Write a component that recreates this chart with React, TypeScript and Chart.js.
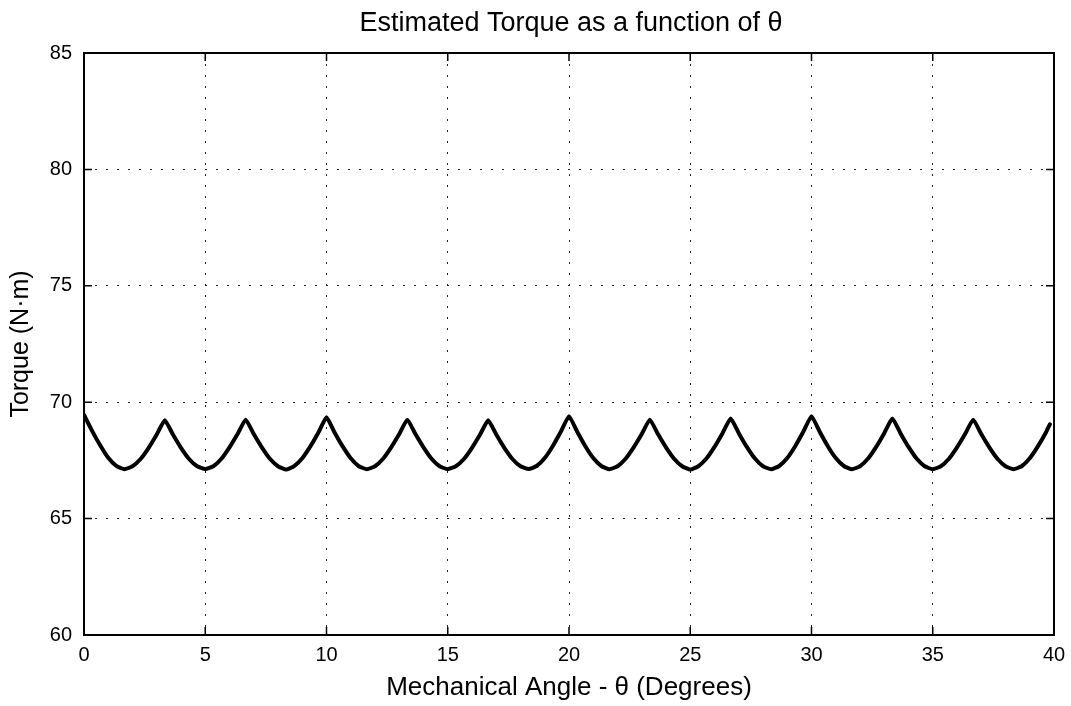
import React, { useEffect, useRef } from "react";
import { Chart, registerables } from "chart.js";

Chart.register(...registerables);

const titleText = "Estimated Torque as a function of \u03b8";
const xAxisTitle = "Mechanical Angle - \u03b8 (Degrees)";
const yAxisTitle = "Torque (N\u00b7m)";

const angles: number[] = [
  0, 0.333, 0.667, 1.0, 1.333, 1.667, 2.0, 2.333, 2.667, 3.0,
  3.333, 3.667, 4.0, 4.333, 4.667, 5.0, 5.333, 5.667, 6.0, 6.333,
  6.667, 7.0, 7.333, 7.667, 8.0, 8.333, 8.667, 9.0, 9.333, 9.667,
  10.0, 10.333, 10.667, 11.0, 11.333, 11.667, 12.0, 12.333, 12.667, 13.0,
  13.333, 13.667, 14.0, 14.333, 14.667, 15.0, 15.333, 15.667, 16.0, 16.333,
  16.667, 17.0, 17.333, 17.667, 18.0, 18.333, 18.667, 19.0, 19.333, 19.667,
  20.0, 20.333, 20.667, 21.0, 21.333, 21.667, 22.0, 22.333, 22.667, 23.0,
  23.333, 23.667, 24.0, 24.333, 24.667, 25.0, 25.333, 25.667, 26.0, 26.333,
  26.667, 27.0, 27.333, 27.667, 28.0, 28.333, 28.667, 29.0, 29.333, 29.667,
  30.0, 30.333, 30.667, 31.0, 31.333, 31.667, 32.0, 32.333, 32.667, 33.0,
  33.333, 33.667, 34.0, 34.333, 34.667, 35.0, 35.333, 35.667, 36.0, 36.333,
  36.667, 37.0, 37.333, 37.667, 38.0, 38.333, 38.667, 39.0, 39.333, 39.667,
  39.83,
];

const torque: number[] = [
  69.45, 68.77, 68.15, 67.61, 67.26, 67.12, 67.25, 67.56, 68.04, 68.61,
  69.22, 68.61, 68.04, 67.56, 67.25, 67.13, 67.25, 67.57, 68.06, 68.63,
  69.25, 68.63, 68.06, 67.57, 67.25, 67.11, 67.25, 67.59, 68.10, 68.70,
  69.35, 68.70, 68.10, 67.59, 67.25, 67.12, 67.25, 67.57, 68.06, 68.63,
  69.25, 68.63, 68.06, 67.57, 67.25, 67.12, 67.25, 67.56, 68.04, 68.61,
  69.22, 68.61, 68.04, 67.56, 67.25, 67.13, 67.26, 67.60, 68.12, 68.74,
  69.40, 68.74, 68.12, 67.60, 67.26, 67.12, 67.25, 67.57, 68.06, 68.63,
  69.25, 68.63, 68.06, 67.57, 67.25, 67.11, 67.25, 67.58, 68.08, 68.67,
  69.30, 68.67, 68.08, 67.58, 67.25, 67.12, 67.26, 67.60, 68.12, 68.74,
  69.40, 68.74, 68.12, 67.60, 67.26, 67.12, 67.25, 67.58, 68.08, 68.67,
  69.30, 68.67, 68.08, 67.58, 67.25, 67.12, 67.25, 67.57, 68.06, 68.63,
  69.25, 68.63, 68.06, 67.57, 67.25, 67.12, 67.25, 67.59, 68.10, 68.70,
  69.05,
];

const xMin = 0;
const xMax = 40;
const xStep = 5;
const yMin = 60;
const yMax = 85;
const yStep = 5;

const FONT = "'Liberation Sans', Arial, Helvetica, sans-serif";

const framePlugin = {
  id: "frame",
  afterDraw(chart: any) {
    const { ctx, chartArea } = chart;
    const { left, right, top, bottom } = chartArea;
    const xs = chart.scales.x;
    const ys = chart.scales.y;
    ctx.save();
    ctx.setLineDash([]);
    ctx.strokeStyle = "#000";
    ctx.lineWidth = 1.5;
    const tl = 8;
    ctx.beginPath();
    xs.ticks.forEach((t: any) => {
      const px = xs.getPixelForValue(t.value);
      ctx.moveTo(px, bottom);
      ctx.lineTo(px, bottom - tl);
      ctx.moveTo(px, top);
      ctx.lineTo(px, top + tl);
    });
    ys.ticks.forEach((t: any) => {
      const py = ys.getPixelForValue(t.value);
      ctx.moveTo(left, py);
      ctx.lineTo(left + tl, py);
      ctx.moveTo(right, py);
      ctx.lineTo(right - tl, py);
    });
    ctx.stroke();
    ctx.lineWidth = 2;
    ctx.strokeRect(left, top, right - left, bottom - top);
    // title
    ctx.fillStyle = "#000";
    ctx.font = `27px ${FONT}`;
    ctx.textAlign = "center";
    ctx.textBaseline = "middle";
    ctx.fillText(titleText, (left + right) / 2 + 2, 24);
    ctx.restore();
  },
};

export default function App() {
  const ref = useRef<HTMLCanvasElement | null>(null);
  useEffect(() => {
    if (!ref.current) return;
    const chart = new Chart(ref.current, {
      type: "line",
      data: {
        datasets: [
          {
            data: angles.map((a, i) => ({ x: a, y: torque[i] })),
            borderColor: "#000",
            borderWidth: 4,
            pointRadius: 0,
            tension: 0.15,
            fill: false,
            borderJoinStyle: "round",
            borderCapStyle: "round",
          },
        ],
      },
      options: {
        animation: false,
        responsive: false,
        maintainAspectRatio: false,
        layout: { padding: { left: 0, right: 17, top: 53, bottom: 0 } },
        plugins: {
          legend: { display: false },
          tooltip: { enabled: false },
          title: { display: false },
        },
        scales: {
          x: {
            type: "linear",
            min: xMin,
            max: xMax,
            ticks: {
              stepSize: xStep,
              color: "#000",
              font: { family: FONT, size: 20 },
              padding: 8,
              maxRotation: 0,
            },
            grid: {
              color: "#222",
              lineWidth: 1,
              drawTicks: false,
            },
            border: { display: false, dash: [2, 9] },
            title: {
              display: true,
              text: xAxisTitle,
              color: "#000",
              font: { family: FONT, size: 26 },
              padding: { top: 0, bottom: 3 },
            },
            afterFit: (scale: any) => {
              scale.height = 71;
              scale.paddingLeft = 0;
              scale.paddingRight = 0;
            },
          },
          y: {
            type: "linear",
            min: yMin,
            max: yMax,
            ticks: {
              stepSize: yStep,
              color: "#000",
              font: { family: FONT, size: 20 },
              padding: 12,
            },
            grid: {
              color: "#222",
              lineWidth: 1,
              drawTicks: false,
            },
            border: { display: false, dash: [2, 9] },
            title: {
              display: true,
              text: yAxisTitle,
              color: "#000",
              font: { family: FONT, size: 25 },
              padding: { top: 6, bottom: 0 },
            },
            afterFit: (scale: any) => {
              scale.width = 84;
            },
          },
        },
      },
      plugins: [framePlugin],
    } as any);
    return () => chart.destroy();
  }, []);
  return (
    <div style={{ position: "fixed", left: 0, top: 0, width: 1071, height: 706, background: "#fff" }}>
      <canvas ref={ref} width={1071} height={706} style={{ width: 1071, height: 706 }} />
    </div>
  );
}
